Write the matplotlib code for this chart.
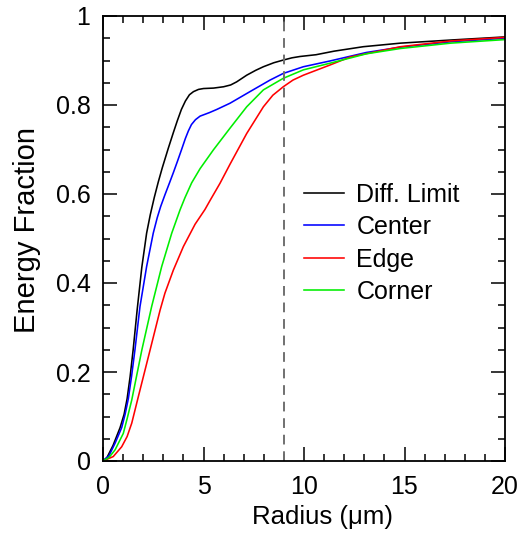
import matplotlib
matplotlib.use('Agg')
import matplotlib.pyplot as plt
from matplotlib.ticker import MultipleLocator, FuncFormatter

plt.rcParams['font.family'] = ['Liberation Sans', 'DejaVu Sans']

# encircled energy curves
diff_x = [0, 0.2, 0.5, 0.85, 1.05, 1.2, 1.35, 1.5, 1.7, 1.93, 2.17, 2.35, 2.55, 2.75, 2.95, 3.25, 3.5,
          3.7, 3.9, 4.1, 4.3, 4.5, 4.75, 5.0, 5.5, 6.0, 6.35, 6.65, 7.15, 7.6, 7.98, 8.5, 8.97, 9.4,
          9.8, 10.6, 11.5, 12.95, 14.8, 17.3, 20]
diff_y = [0, 0.008, 0.035, 0.075, 0.105, 0.14, 0.19, 0.25, 0.34, 0.435, 0.512, 0.553, 0.592, 0.627,
          0.659, 0.703, 0.738, 0.765, 0.790, 0.809, 0.823, 0.830, 0.835, 0.837, 0.838, 0.841, 0.845,
          0.852, 0.867, 0.878, 0.886, 0.895, 0.901, 0.906, 0.909, 0.913, 0.921, 0.931, 0.939, 0.946, 0.953]

center_x = [0, 0.3, 0.6, 0.93, 1.1, 1.26, 1.42, 1.59, 1.84, 2.17, 2.5, 2.7, 2.87, 3.08, 3.3, 3.5, 3.7,
            3.91, 4.1, 4.25, 4.4, 4.6, 4.83, 5.3, 5.66, 6.32, 7.31, 8.31, 8.97, 9.97, 11.3, 13.1, 14.8,
            17.3, 20]
center_y = [0, 0.012, 0.04, 0.075, 0.105, 0.14, 0.19, 0.25, 0.347, 0.437, 0.512, 0.547, 0.572, 0.598,
            0.624, 0.648, 0.673, 0.700, 0.725, 0.742, 0.756, 0.767, 0.775, 0.783, 0.790, 0.804, 0.830,
            0.856, 0.871, 0.886, 0.899, 0.918, 0.930, 0.942, 0.950]

edge_x = [0, 0.51, 0.93, 1.2, 1.43, 1.76, 2.34, 2.84, 3.08, 3.5, 4.0, 4.58, 5.07, 5.32, 5.82, 6.32,
          7.15, 7.98, 8.45, 8.97, 9.45, 9.97, 11.3, 12.3, 14.8, 17.3, 20]
edge_y = [0, 0.01, 0.032, 0.055, 0.085, 0.145, 0.249, 0.339, 0.377, 0.429, 0.482, 0.532, 0.565, 0.585,
          0.624, 0.667, 0.736, 0.796, 0.822, 0.841, 0.856, 0.867, 0.890, 0.908, 0.931, 0.944, 0.952]

corner_x = [0, 0.3, 0.6, 1.01, 1.2, 1.43, 1.93, 2.42, 2.92, 3.42, 3.83, 4.08, 4.41, 4.83, 5.49, 6.32,
            7.15, 7.98, 8.97, 9.97, 11.3, 13.1, 14.8, 17.3, 20]
corner_y = [0, 0.008, 0.025, 0.062, 0.095, 0.137, 0.249, 0.347, 0.437, 0.512, 0.564, 0.592, 0.625,
            0.657, 0.699, 0.748, 0.796, 0.834, 0.860, 0.879, 0.894, 0.915, 0.927, 0.939, 0.947]

labels = ['Diff. Limit', 'Center', 'Edge', 'Corner']
colors = ['black', '#0000ff', '#ff0000', '#00ee00']
limit_radius = 9

fig = plt.figure(figsize=(5.21, 5.36), dpi=100)
ax = fig.add_axes([103 / 521, 75 / 536, 402 / 521, 445 / 536])

series = [(diff_x, diff_y), (center_x, center_y), (edge_x, edge_y), (corner_x, corner_y)]
for (x, y), lab, c in zip(series, labels, colors):
    ax.plot(x, y, color=c, lw=1.15, label=lab, solid_joinstyle='round')

ax.axvline(limit_radius, color='#707070', lw=1.4, ls=(0, (5, 3.5)))

ax.set_xlim(0, 20)
ax.set_ylim(0, 1)
ax.xaxis.set_major_locator(MultipleLocator(5))
ax.xaxis.set_minor_locator(MultipleLocator(1))
ax.yaxis.set_major_locator(MultipleLocator(0.2))
ax.yaxis.set_minor_locator(MultipleLocator(0.05))
ax.yaxis.set_major_formatter(FuncFormatter(lambda v, p: '%g' % round(v, 2)))
ax.xaxis.set_major_formatter(FuncFormatter(lambda v, p: '%g' % v))

ax.tick_params(which='both', direction='in', top=True, right=True, width=1.1, labelsize=18)
ax.tick_params(which='major', length=10)
ax.tick_params(which='minor', length=5)
ax.tick_params(axis='x', pad=10)
ax.tick_params(axis='y', pad=9)
for s in ax.spines.values():
    s.set_linewidth(1.3)

ax.set_xlabel('Radius (\u03bcm)', fontsize=18.5)
ax.set_ylabel('Energy Fraction', fontsize=21)
ax.xaxis.set_label_coords(0.545, -0.099)
ax.yaxis.set_label_coords(-0.155, 0.519)

ax.legend(loc='center left', bbox_to_anchor=(0.5, 0.489), frameon=False, fontsize=18,
          handlelength=1.6, handletextpad=0.5, labelspacing=0.34, borderpad=0, borderaxespad=0)

fig.savefig('out.png', dpi=100)
